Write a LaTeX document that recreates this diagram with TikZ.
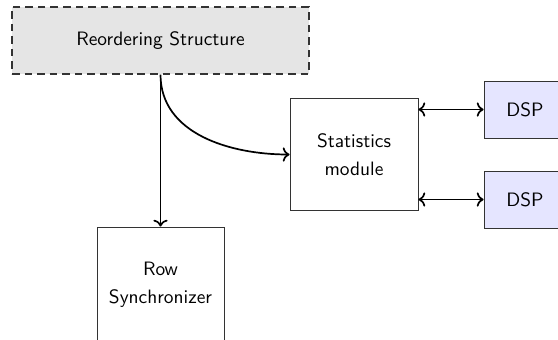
\documentclass[tikz,border=0pt]{standalone}
\usetikzlibrary{arrows.meta}
\begin{document}
\begin{tikzpicture}[x=0.526pt,y=-0.526pt,
  font=\sffamily\fontsize{10.2pt}{12.5pt}\selectfont,
  blk/.style={draw=black!80,line width=0.5pt,align=center,inner sep=0pt},
  conn/.style={line width=0.9pt,->},
  biconn/.style={line width=0.9pt,<->}]
\useasboundingbox (0,0) rectangle (558,339);
\node[blk,dash pattern=on 4pt off 2.6pt,draw=black!80,line width=0.6pt,fill=black!10,minimum width=156.2pt,minimum height=35.2pt] (reorder) at (160.5,40.5) {Reordering Structure};
\node[blk,minimum width=66.8pt,minimum height=61pt] (row) at (160.5,285) {Row\\[2pt]Synchronizer};
\node[blk,minimum width=67.3pt,minimum height=59.4pt] (stats) at (354,154.5) {Statistics\\[2pt]module};
\node[blk,fill=blue!10,minimum width=43.1pt,minimum height=30pt] (dspa) at (525,109.5) {DSP};
\node[blk,fill=blue!10,minimum width=43.1pt,minimum height=30pt] (dspb) at (525,199.5) {DSP};
\draw[conn] (reorder.south) -- (row.north);
\draw[conn] (reorder.south) to[out=-90,in=180] (stats.west);
\draw[biconn] (stats.east |- dspa.west) -- (dspa.west);
\draw[biconn] (stats.east |- dspb.west) -- (dspb.west);
\end{tikzpicture}
\end{document}
